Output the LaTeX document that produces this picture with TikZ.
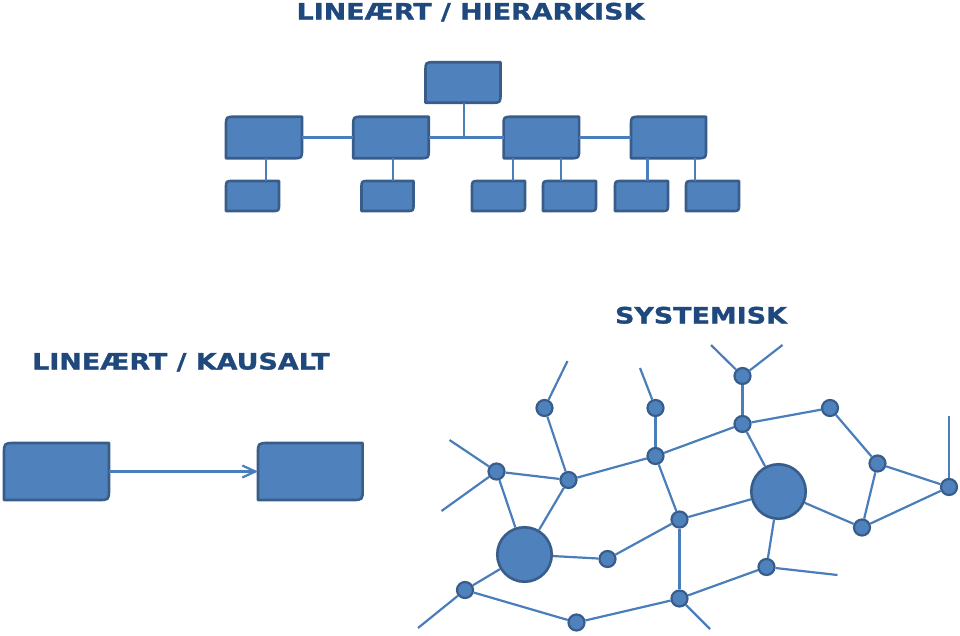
\documentclass[tikz,border=0pt]{standalone}
\usepackage{fontspec}
\setmainfont{DejaVu Sans}
\newfontfamily\ttlfont[FakeStretch=1.19,FakeBold=1.2]{DejaVu Sans Bold}
\usetikzlibrary{calc,arrows.meta}
\definecolor{fillb}{HTML}{4F81BD}
\definecolor{edgeb}{HTML}{385D8A}
\definecolor{lineb}{HTML}{4A7EBB}
\definecolor{ttl}{HTML}{1F497D}
\newcommand\skbox[6]{%
  \node[inner sep=0pt,outer sep=0pt,minimum width=#4pt,minimum height=#5pt] (#1) at (#2,#3) {};
  \draw[boxst] (#1.south west) -- ($(#1.north west)+(0,#6)$) .. controls (#1.north west) .. ($(#1.north west)+(#6,0)$) -- (#1.north east) -- ($(#1.south east)+(0,-#6)$) .. controls (#1.south east) .. ($(#1.south east)+(-#6,0)$) -- cycle;}
\begin{document}
\begin{tikzpicture}[x=1pt,y=-1pt,
  boxst/.style={fill=fillb,draw=edgeb,line width=2.6pt,line join=round},
  conn/.style={draw=lineb,line width=2.2pt},
  sm/.style={circle,fill=fillb,draw=edgeb,line width=2.2pt,minimum size=16pt,inner sep=0pt},
  bg/.style={circle,fill=fillb,draw=edgeb,line width=2.6pt,minimum size=54.5pt,inner sep=0pt},
  ttlst/.style={text=ttl,font=\ttlfont\fontsize{22.6}{26}\selectfont,inner sep=0pt,anchor=base}]
\useasboundingbox[fill=white] (0,0) rectangle (960,635);

% titles
\node[ttlst] (t1) at (470.5,19.5) {LINEÆRT / HIERARKISK};
\node[ttlst] (t2) at (701,323.5) {SYSTEMISK};
\node[ttlst] (t3) at (181,369.5) {LINEÆRT / KAUSALT};

% hierarchy
\skbox{top}{463}{82.5}{75}{40.5}{9}
\skbox{b1}{264}{137.5}{76}{41.5}{9}
\skbox{b2}{391}{137.5}{75.5}{41.5}{9}
\skbox{b3}{541.3}{137.5}{75.5}{41.5}{9}
\skbox{b4}{668.5}{137.5}{75}{41.5}{9}
\skbox{c1}{252.5}{196}{53}{30}{7}
\skbox{c2}{387.5}{196}{52}{30}{7}
\skbox{c3}{498.5}{196}{53}{30}{7}
\skbox{c4}{569.5}{196}{53}{30}{7}
\skbox{c5}{641.5}{196}{53}{30}{7}
\skbox{c6}{712.5}{196}{53}{30}{7}
\draw[conn] (b1.east) -- (b2.west);
\draw[conn] (b2.east) -- (b3.west);
\draw[conn] (b3.east) -- (b4.west);
\coordinate (tj) at ($(top.south)+(1,0)$);
\draw[conn] (tj) -- (tj |- b2.east);
\foreach \p/\c/\dx in {b1/c1/2, b2/c2/2, b3/c3/-28.3, b3/c4/19.7, b4/c5/-21, b4/c6/26.1}{
  \coordinate (k\c) at ($(\p.south)+(\dx,0)$);
  \draw[conn] (k\c) -- (k\c |- \c.north);
}

% linear / causal
\skbox{l1}{56.5}{471.5}{105}{57}{11}
\skbox{l2}{310.3}{471.5}{104.7}{57}{11}
\draw[conn,-{Straight Barb[length=13pt,width=12pt]}] (l1.east) -- (l2.west);

% network nodes
\node[sm] (A) at (544.5,408) {};
\node[sm] (B) at (655.5,408) {};
\node[sm] (C) at (742.5,376) {};
\node[sm] (D) at (742.5,424) {};
\node[sm] (E) at (830,408) {};
\node[sm] (F) at (655.5,456) {};
\node[sm] (G) at (568.5,480) {};
\node[sm] (H) at (496.5,471.5) {};
\node[sm] (I) at (877.5,463.5) {};
\node[sm] (J) at (949,487) {};
\node[bg] (X) at (778.5,491.5) {};
\node[sm] (K) at (679.5,519.5) {};
\node[sm] (L) at (862,527.5) {};
\node[bg] (Y) at (524.5,554.5) {};
\node[sm] (M) at (607.5,559) {};
\node[sm] (N) at (766.5,567) {};
\node[sm] (O) at (465,590) {};
\node[sm] (P) at (679.5,598.5) {};
\node[sm] (Q) at (576.5,622.5) {};

% free ends
\coordinate (eA) at (567.5,361);
\coordinate (eB) at (640,368);
\coordinate (eC1) at (711,345);
\coordinate (eC2) at (782.5,345);
\coordinate (eH1) at (449.5,440);
\coordinate (eH2) at (441.5,511);
\coordinate (eJ) at (949,416);
\coordinate (eN) at (837.5,575);
\coordinate (eO) at (418,628);
\coordinate (eP) at (710,629);

% network edges
\foreach \a/\b in {A/eA, B/eB, C/eC1, C/eC2, H/eH1, H/eH2, J/eJ, N/eN, O/eO, P/eP,
  A/G, H/G, G/F, G/Y, F/B, F/D, D/C, D/E, D/X, E/I, I/J, I/L, X/L, L/J,
  F/K, K/X, K/M, K/P, H/Y, Y/M, Y/O, O/Q, Q/P, P/N, N/X}
  \draw[conn] (\a) -- (\b);
\end{tikzpicture}
\end{document}
